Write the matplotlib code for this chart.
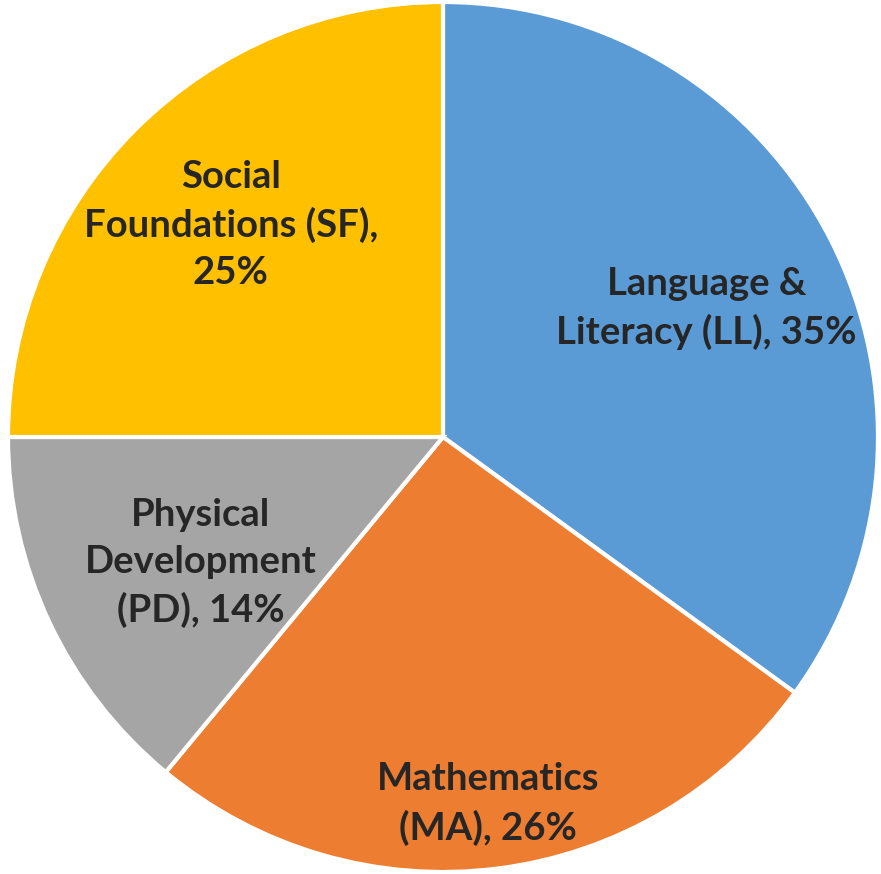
import matplotlib
matplotlib.use("Agg")
import matplotlib.pyplot as plt
import numpy as np

categories = ["Language &\nLiteracy (LL), 35%", "Mathematics\n(MA), 26%",
              "Physical\nDevelopment\n(PD), 14%", "Social\nFoundations (SF),\n25%"]
values = [35, 26, 14, 25]
colors = ["#5B9BD5", "#ED7D31", "#A5A5A5", "#FFC000"]
label_dist = [0.674, 0.85, 0.628, 0.69]
label_rot = [-1.0, -0.2, 2.3, 0.0]

fig = plt.figure(figsize=(8.81, 8.74), dpi=100)
ax = fig.add_axes([0.00908, 0.0023, 0.9875, 0.9954])
wedges, _ = ax.pie(values, colors=colors, startangle=90, counterclock=False,
                   wedgeprops=dict(edgecolor="white", linewidth=3), radius=1.0)
for w, lab, d, r in zip(wedges, categories, label_dist, label_rot):
    mid = np.deg2rad((w.theta1 + w.theta2) / 2 + r)
    ax.text(d * np.cos(mid), d * np.sin(mid), lab, ha="center", va="center",
            fontsize=27.5, fontweight="bold", family=["Lato", "DejaVu Sans"],
            color="#262626", linespacing=1.45)
ax.set_xlim(-1, 1)
ax.set_ylim(-1, 1)
ax.set_aspect("equal")
ax.axis("off")
fig.savefig("out.png", dpi=100)
